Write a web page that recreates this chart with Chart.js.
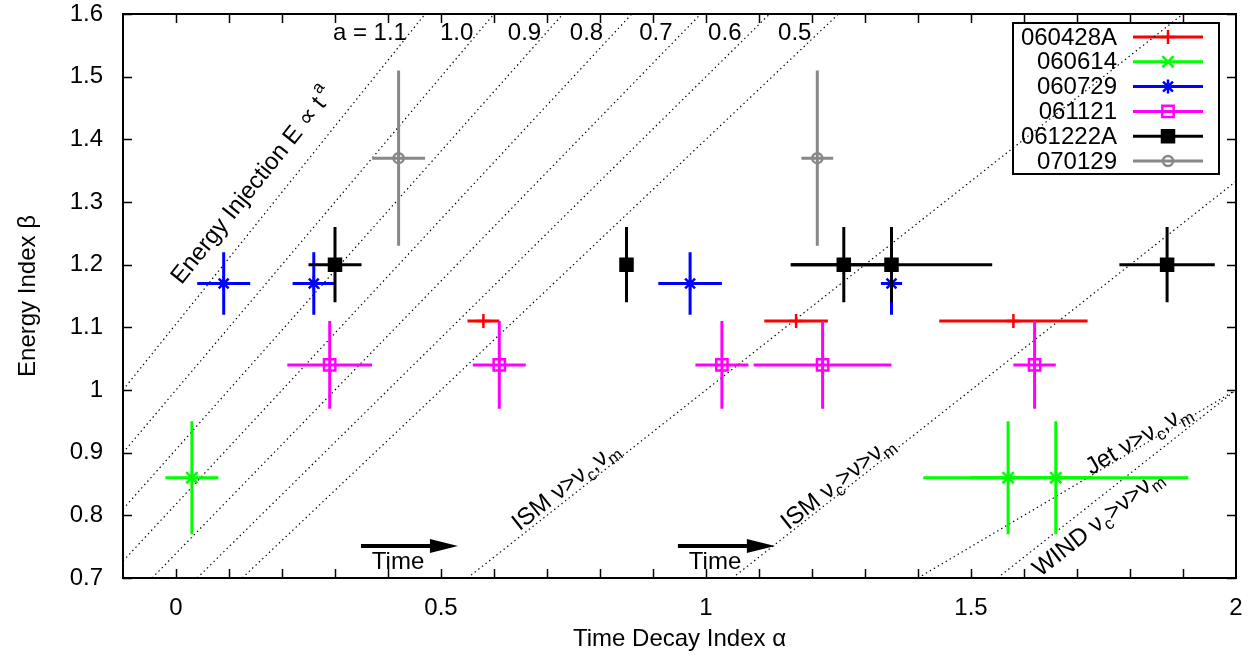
<!DOCTYPE html>
<html lang="en">
<head>
  <meta charset="UTF-8" />
  <title>Energy Index vs Time Decay Index</title>
  <script src="https://cdn.jsdelivr.net/npm/chart.js"></script>
  <style>
    body { margin: 0; background: #fff; }
    canvas { display: block; }
  </style>
</head>
<body>
  <canvas id="betaAlphaChart" width="1258" height="662"></canvas>

  <script>
    // Axis ticks
    const xTickValues = [0, 0.5, 1, 1.5, 2];
    const xTickLabels = ["0", "0.5", "1", "1.5", "2"];
    const yTickValues = [0.7, 0.8, 0.9, 1.0, 1.1, 1.2, 1.3, 1.4, 1.5, 1.6];
    const yTickLabels = ["0.7", "0.8", "0.9", "1", "1.1", "1.2", "1.3", "1.4", "1.5", "1.6"];

    // GRB samples: alpha = time decay index, beta = energy index
    const grbNames = ["060428A", "060614", "060729", "061121", "061222A", "070129"];

    const alpha060428A = [0.58, 1.17, 1.58];
    const beta060428A = [1.11, 1.11, 1.11];
    const alphaErr060428A = [0.03, 0.06, 0.14];
    const betaErr060428A = [0, 0, 0];

    const alpha060614 = [0.03, 1.57, 1.66];
    const beta060614 = [0.86, 0.86, 0.86];
    const alphaErr060614 = [0.05, 0.16, 0.16];
    const alphaErrUp060614 = [0.05, 0.16, 0.25];
    const betaErr060614 = [0.09, 0.09, 0.09];

    const alpha060729 = [0.09, 0.26, 0.97, 1.35];
    const beta060729 = [1.17, 1.17, 1.17, 1.17];
    const alphaErr060729 = [0.05, 0.04, 0.06, 0.02];
    const betaErr060729 = [0.05, 0.05, 0.05, 0.05];

    const alpha061121 = [0.29, 0.61, 1.03, 1.22, 1.62];
    const beta061121 = [1.04, 1.04, 1.04, 1.04, 1.04];
    const alphaErr061121 = [0.08, 0.05, 0.05, 0.13, 0.04];
    const betaErr061121 = [0.07, 0.07, 0.07, 0.07, 0.07];

    const alpha061222A = [0.30, 0.85, 1.26, 1.35, 1.87];
    const beta061222A = [1.2, 1.2, 1.2, 1.2, 1.2];
    const alphaErr061222A = [0.05, 0.01, 0.10, 0.19, 0.09];
    const betaErr061222A = [0.06, 0.06, 0.06, 0.06, 0.06];

    const alpha070129 = [0.42, 1.21];
    const beta070129 = [1.37, 1.37];
    const alphaErr070129 = [0.05, 0.03];
    const betaErr070129 = [0.14, 0.14];

    // Energy injection lines E ~ t^a, end points as (alpha, beta)
    const injectionA = ["1.1", "1.0", "0.9", "0.8", "0.7", "0.6", "0.5"];
    const injectionFrom = [[-0.1, 1.0], [-0.1, 0.9], [-0.1, 0.81], [-0.1, 0.727], [-0.045, 0.7], [0.04, 0.7], [0.125, 0.7]];
    const injectionTo = [[0.47, 1.6], [0.6, 1.6], [0.73, 1.6], [0.86, 1.6], [0.99, 1.6], [1.12, 1.6], [1.25, 1.6]];

    // Closure relations: ISM v>vc,vm / ISM vc>v>vm / Jet v>vc,vm / WIND vc>v>vm
    const closureFrom = [[0.55, 0.7], [1.05, 0.7], [1.4, 0.7], [1.55, 0.7]];
    const closureTo = [[1.9, 1.6], [2.0, 1.333], [2.0, 1.0], [2.0, 1.0]];

    // ---- styles and placement ----
    const FONT = '"Liberation Sans", Arial, Helvetica, sans-serif';
    const BIG = "24px " + FONT;
    const SMALL = "17px " + FONT;

    const series = [
      { x: alpha060428A, y: beta060428A, ex: alphaErr060428A, ey: betaErr060428A, color: "#ff0000", style: "cross", r: 7, fill: "transparent" },
      { x: alpha060614, y: beta060614, ex: alphaErr060614, exUp: alphaErrUp060614, ey: betaErr060614, color: "#00ff00", style: "crossRot", r: 8, fill: "transparent" },
      { x: alpha060729, y: beta060729, ex: alphaErr060729, ey: betaErr060729, color: "#0000ff", style: "star", r: 7, fill: "transparent" },
      { x: alpha061121, y: beta061121, ex: alphaErr061121, ey: betaErr061121, color: "#ff00ff", style: "rect", r: 8, fill: "transparent" },
      { x: alpha061222A, y: beta061222A, ex: alphaErr061222A, ey: betaErr061222A, color: "#000000", style: "rect", r: 8.5, fill: "#000000" },
      { x: alpha070129, y: beta070129, ex: alphaErr070129, ey: betaErr070129, color: "#888888", style: "circle", r: 5, fill: "transparent" }
    ];

    const guideFrom = injectionFrom.concat(closureFrom);
    const guideTo = injectionTo.concat(closureTo);

    const aLabelAlpha = [0.296, 0.498, 0.626, 0.743, 0.874, 1.004, 1.136];
    const aLabelBeta = 1.571;

    const lineNotes = [
      { line: 0, at: [0.143, 1.327], parts: [["Energy Injection E \u221d t"], ["a", "sup"]] },
      { line: 7, at: [0.734, 0.848], parts: [["ISM \u03bd>\u03bd"], ["c", "sub"], [",\u03bd"], ["m", "sub"]] },
      { line: 8, at: [1.247, 0.853], parts: [["ISM \u03bd"], ["c", "sub"], [">\u03bd>\u03bd"], ["m", "sub"]] },
      { line: 9, at: [1.815, 0.923], parts: [["Jet \u03bd>\u03bd"], ["c", "sub"], [",\u03bd"], ["m", "sub"]] },
      { line: 10, at: [1.738, 0.789], parts: [["WIND \u03bd"], ["c", "sub"], [">\u03bd>\u03bd"], ["m", "sub"]] }
    ];

    const timeArrows = [
      { from: [0.349, 0.751], to: [0.532, 0.751], text: [0.419, 0.726] },
      { from: [0.947, 0.751], to: [1.13, 0.751], text: [1.017, 0.726] }
    ];

    // ---- datasets ----
    const guideSets = guideFrom.map((p, i) => ({
      type: "line",
      data: [{ x: p[0], y: p[1] }, { x: guideTo[i][0], y: guideTo[i][1] }],
      borderColor: "#000",
      borderWidth: 1.2,
      borderDash: [1.4, 3.2],
      pointRadius: 0,
      fill: false,
      order: 100
    }));

    const grbSets = series.map((s, i) => ({
      label: grbNames[i],
      data: s.x.map((v, k) => ({ x: v, y: s.y[k] })),
      showLine: false,
      pointStyle: s.style,
      pointRadius: s.r,
      borderColor: s.color,
      backgroundColor: s.fill,
      borderWidth: 2.5,
      order: series.length - i
    }));

    function drawRich(ctx, parts, x, y, angle) {
      ctx.save();
      ctx.translate(x, y);
      ctx.rotate(angle);
      ctx.fillStyle = "#000";
      ctx.textBaseline = "alphabetic";
      ctx.textAlign = "left";
      let total = 0;
      parts.forEach(p => { ctx.font = p[1] ? SMALL : BIG; total += ctx.measureText(p[0]).width + (p[1] === "sup" ? 3 : 0); });
      let cx = -total / 2;
      parts.forEach(p => {
        ctx.font = p[1] ? SMALL : BIG;
        if (p[1] === "sup") cx += 3;
        const dy = p[1] === "sub" ? 6 : p[1] === "sup" ? -12 : 0;
        ctx.fillText(p[0], cx, 8 + dy);
        cx += ctx.measureText(p[0]).width;
      });
      ctx.restore();
    }

    const overlay = {
      id: "overlay",
      beforeDatasetsDraw(chart) {
        // key box (top right)
        const { ctx, chartArea } = chart;
        const right = chartArea.right - 17, top = chartArea.top + 9;
        ctx.save();
        ctx.lineWidth = 2;
        ctx.strokeStyle = "#000";
        ctx.strokeRect(right - 206, top, 206, 151);
        ctx.font = BIG;
        ctx.textAlign = "right";
        ctx.textBaseline = "middle";
        grbNames.forEach((name, i) => {
          const y = top + 14 + i * 24.8;
          ctx.fillStyle = "#000";
          ctx.fillText(name, right - 102, y + 1);
          ctx.strokeStyle = series[i].color;
          ctx.lineWidth = 3;
          ctx.beginPath();
          ctx.moveTo(right - 86, y);
          ctx.lineTo(right - 16, y);
          ctx.stroke();
          ctx.lineWidth = 2.5;
          ctx.fillStyle = series[i].fill;
          Chart.helpers.drawPoint(ctx, { pointStyle: series[i].style, radius: series[i].r, rotation: 0, borderWidth: 2.5 }, right - 51, y);
        });
        ctx.restore();
      },
      beforeDatasetDraw(chart, args) {
        const k = args.index - guideSets.length;
        if (k < 0) return;
        const s = series[k];
        const xs = chart.scales.x, ys = chart.scales.y, ctx = chart.ctx;
        ctx.save();
        ctx.strokeStyle = s.color;
        ctx.lineWidth = 3;
        s.x.forEach((a, i) => {
          const b = s.y[i];
          const up = s.exUp ? s.exUp[i] : s.ex[i];
          const py = ys.getPixelForValue(b), px = xs.getPixelForValue(a);
          ctx.beginPath();
          ctx.moveTo(xs.getPixelForValue(a - s.ex[i]), py);
          ctx.lineTo(xs.getPixelForValue(a + up), py);
          if (s.ey[i] > 0) {
            ctx.moveTo(px, ys.getPixelForValue(b - s.ey[i]));
            ctx.lineTo(px, ys.getPixelForValue(b + s.ey[i]));
          }
          ctx.stroke();
        });
        ctx.restore();
      },
      afterDatasetsDraw(chart) {
        const { ctx, chartArea: ca } = chart;
        const xs = chart.scales.x, ys = chart.scales.y;
        ctx.save();
        // frame + inward ticks on all four sides
        ctx.strokeStyle = "#000";
        ctx.lineWidth = 2;
        ctx.strokeRect(ca.left, ca.top, ca.right - ca.left, ca.bottom - ca.top);
        ctx.lineWidth = 1.5;
        ctx.beginPath();
        for (let k = 1; k < 21; k++) {
          const px = Math.round(xs.getPixelForValue(-0.1 + k * 0.1)) + 0.5;
          ctx.moveTo(px, ca.bottom); ctx.lineTo(px, ca.bottom - 9);
          ctx.moveTo(px, ca.top); ctx.lineTo(px, ca.top + 9);
        }
        yTickValues.forEach(v => {
          const py = Math.round(ys.getPixelForValue(v)) + 0.5;
          ctx.moveTo(ca.left, py); ctx.lineTo(ca.left + 9, py);
          ctx.moveTo(ca.right, py); ctx.lineTo(ca.right - 9, py);
        });
        ctx.stroke();

        // a = ... labels along the top
        ctx.fillStyle = "#000";
        ctx.font = BIG;
        ctx.textAlign = "left";
        ctx.textBaseline = "middle";
        injectionA.forEach((a, i) => {
          const txt = i === 0 ? "a = " + a : a;
          ctx.fillText(txt, xs.getPixelForValue(aLabelAlpha[i]), ys.getPixelForValue(aLabelBeta) + 1);
        });

        // rotated labels following the dotted lines
        lineNotes.forEach(n => {
          const x0 = xs.getPixelForValue(guideFrom[n.line][0]), y0 = ys.getPixelForValue(guideFrom[n.line][1]);
          const x1 = xs.getPixelForValue(guideTo[n.line][0]), y1 = ys.getPixelForValue(guideTo[n.line][1]);
          const ang = Math.atan2(y1 - y0, x1 - x0);
          drawRich(ctx, n.parts, xs.getPixelForValue(n.at[0]), ys.getPixelForValue(n.at[1]), ang);
        });

        // Time arrows
        timeArrows.forEach(t => {
          const xa = xs.getPixelForValue(t.from[0]), xb = xs.getPixelForValue(t.to[0]);
          const y = ys.getPixelForValue(t.from[1]);
          ctx.strokeStyle = "#000";
          ctx.lineWidth = 4;
          ctx.beginPath();
          ctx.moveTo(xa, y);
          ctx.lineTo(xb - 20, y);
          ctx.stroke();
          ctx.beginPath();
          ctx.moveTo(xb, y);
          ctx.lineTo(xb - 28, y - 7);
          ctx.lineTo(xb - 28, y + 7);
          ctx.closePath();
          ctx.fill();
          ctx.font = BIG;
          ctx.textAlign = "center";
          ctx.textBaseline = "middle";
          ctx.fillText("Time", xs.getPixelForValue(t.text[0]), ys.getPixelForValue(t.text[1]) + 1);
        });
        ctx.restore();
      }
    };

    Chart.defaults.font.family = FONT;
    Chart.defaults.color = "#000";

    const ctx = document.getElementById("betaAlphaChart").getContext("2d");
    new Chart(ctx, {
      type: "scatter",
      data: { datasets: guideSets.concat(grbSets) },
      options: {
        responsive: false,
        animation: false,
        devicePixelRatio: 1,
        events: [],
        layout: { padding: { top: 14, right: 22, left: 0, bottom: 0 } },
        plugins: { legend: { display: false }, tooltip: { enabled: false } },
        scales: {
          x: {
            type: "linear",
            position: "bottom",
            min: -0.1,
            max: 2,
            grid: { display: false, drawTicks: false },
            border: { display: false },
            afterBuildTicks: s => { s.ticks = xTickValues.map(v => ({ value: v })); },
            afterFit: s => { s.height = 84; s.paddingLeft = 0; s.paddingRight = 0; },
            ticks: {
              autoSkip: false,
              maxRotation: 0,
              padding: 18,
              font: { size: 24, lineHeight: 1 },
              callback: (v, i) => xTickLabels[i]
            },
            title: {
              display: true,
              text: "Time Decay Index \u03b1",
              font: { size: 24 },
              padding: { top: 0, bottom: 8 }
            }
          },
          y: {
            type: "linear",
            position: "left",
            min: 0.7,
            max: 1.6,
            grid: { display: false, drawTicks: false },
            border: { display: false },
            afterBuildTicks: s => { s.ticks = yTickValues.map(v => ({ value: v })); },
            afterFit: s => { s.width = 123; s.paddingTop = 0; s.paddingBottom = 0; },
            ticks: {
              autoSkip: false,
              padding: 20,
              font: { size: 24, lineHeight: 1 },
              callback: (v, i) => yTickLabels[i]
            },
            title: {
              display: true,
              text: "Energy Index \u03b2",
              font: { size: 24 },
              padding: { top: 14, bottom: 0 }
            }
          }
        }
      },
      plugins: [overlay]
    });
  </script>
</body>
</html>
